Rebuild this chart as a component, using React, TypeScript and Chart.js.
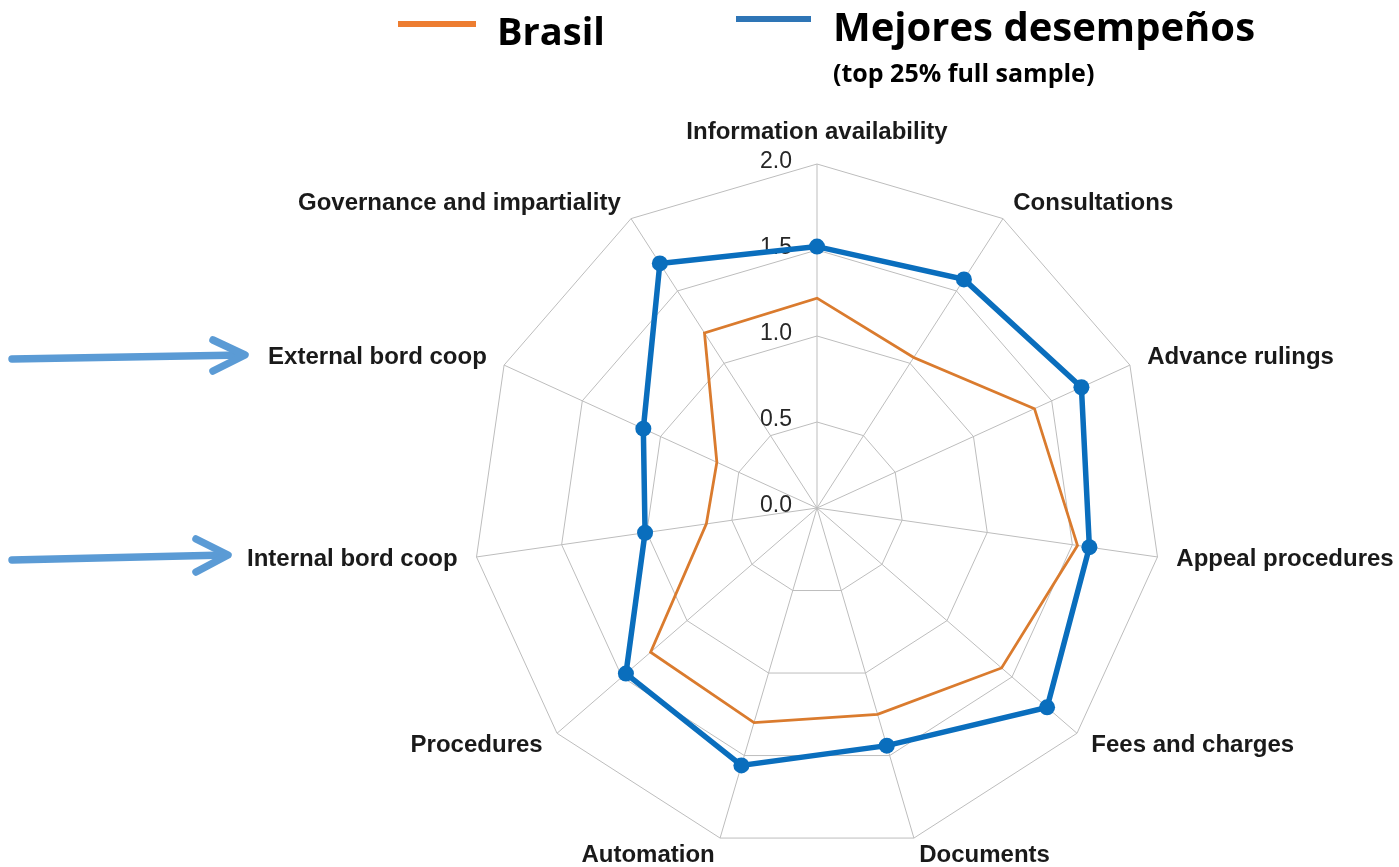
import React, { useEffect, useRef } from "react";
import { Chart, registerables } from "chart.js";

Chart.register(...registerables);

const categories = [
  "Information availability",
  "Consultations",
  "Advance rulings",
  "Appeal procedures",
  "Fees and charges",
  "Documents",
  "Automation",
  "Procedures",
  "Internal bord coop",
  "External bord coop",
  "Governance and impartiality",
];
const brasilValues = [1.22, 1.04, 1.39, 1.53, 1.42, 1.25, 1.3, 1.28, 0.65, 0.64, 1.21];
const topValues = [1.52, 1.58, 1.69, 1.6, 1.77, 1.44, 1.56, 1.47, 1.01, 1.11, 1.69];
const tickValues = [0, 0.5, 1.0, 1.5, 2.0];
const seriesNames = ["Brasil", "Mejores desempeños"];
const legendSubtitle = "(top 25% full sample)";

const W = 1399;
const H = 867;

const BLUE = "#0A6EBD";
const ORANGE = "#DA7B2E";

const decorPlugin = {
  id: "decor",
  beforeDatasetsDraw(chart: any) {
    const scale = chart.scales.r;
    const ctx = chart.ctx;
    ctx.save();
    ctx.font = '23px "Liberation Sans", Arial, sans-serif';
    ctx.fillStyle = "#262626";
    ctx.textAlign = "right";
    ctx.textBaseline = "middle";
    tickValues.forEach((v) => {
      const p = scale.getPointPositionForValue(0, v);
      ctx.fillText(v.toFixed(1), scale.xCenter - 25, p.y - 2);
    });
    ctx.restore();
  },
  afterDraw(chart: any) {
    const scale = chart.scales.r;
    const ctx = chart.ctx;
    ctx.save();
    // point labels
    ctx.font = 'bold 24px "Liberation Sans", Arial, sans-serif';
    ctx.fillStyle = "#1a1a1a";
    ctx.textBaseline = "middle";
    categories.forEach((c, i) => {
      const p = scale.getPointPosition(i, scale.drawingArea);
      const a = p.angle + Math.PI / 2;
      const s = Math.sin(a);
      const co = Math.cos(a);
      let x = p.x;
      let y = p.y;
      if (Math.abs(s) < 0.05) {
        ctx.textAlign = "center";
        y = p.y - 32;
      } else if (s > 0) {
        ctx.textAlign = "left";
        x = p.x + 19 * Math.abs(s);
        y = p.y - co * 18;
      } else {
        ctx.textAlign = "right";
        x = p.x - 19 * Math.abs(s);
        y = p.y - co * 18;
      }
      ctx.fillText(c, x, y);
    });

    // legend
    ctx.lineCap = "butt";
    ctx.lineWidth = 6;
    ctx.strokeStyle = "#ED7D31";
    ctx.beginPath();
    ctx.moveTo(398, 24);
    ctx.lineTo(476, 24);
    ctx.stroke();
    ctx.strokeStyle = "#2E75B6";
    ctx.beginPath();
    ctx.moveTo(736, 19);
    ctx.lineTo(811, 19);
    ctx.stroke();

    ctx.fillStyle = "#000";
    ctx.textAlign = "left";
    ctx.textBaseline = "alphabetic";
    ctx.font = 'bold 38px "Open Sans", sans-serif';
    ctx.fillText(seriesNames[0], 497, 45);
    ctx.font = 'bold 40px "Open Sans", sans-serif';
    ctx.fillText(seriesNames[1], 833, 41);
    ctx.font = 'bold 25px "Open Sans", sans-serif';
    ctx.fillText(legendSubtitle, 833, 82);

    // arrows
    const arrow = (x0: number, y0: number, x1: number, y1: number, dy1: number, dy2: number) => {
      ctx.strokeStyle = "#5B9BD5";
      ctx.lineWidth = 7.5;
      ctx.lineCap = "round";
      ctx.lineJoin = "round";
      ctx.beginPath();
      ctx.moveTo(x0, y0);
      ctx.lineTo(x1 - 2, y1);
      ctx.stroke();
      ctx.beginPath();
      ctx.moveTo(x1 - 32, y1 + dy1);
      ctx.lineTo(x1, y1);
      ctx.lineTo(x1 - 32, y1 + dy2);
      ctx.stroke();
    };
    arrow(12, 359, 245, 355, -15, 16);
    arrow(12, 560, 228, 555, -16, 17);
    ctx.restore();
  },
};

export default function App() {
  const ref = useRef<HTMLCanvasElement | null>(null);
  useEffect(() => {
    document.body.style.margin = "0";
    const canvas = ref.current;
    if (!canvas) return;
    const chart = new Chart(canvas, {
      type: "radar",
      data: {
        labels: categories,
        datasets: [
          {
            label: seriesNames[0],
            data: brasilValues,
            borderColor: ORANGE,
            backgroundColor: ORANGE,
            borderWidth: 2.8,
            pointRadius: 0,
            fill: false,
            order: 1,
          },
          {
            label: seriesNames[1],
            data: topValues,
            borderColor: BLUE,
            backgroundColor: BLUE,
            borderWidth: 5.5,
            pointRadius: 8,
            pointBorderWidth: 0,
            pointBackgroundColor: BLUE,
            fill: false,
            order: 0,
          },
        ],
      },
      options: {
        responsive: false,
        maintainAspectRatio: false,
        animation: false,
        devicePixelRatio: 1,
        layout: { padding: { left: 473, right: 238, top: 164, bottom: 15 } },
        plugins: { legend: { display: false }, tooltip: { enabled: false } },
        elements: { line: { tension: 0 } },
        scales: {
          r: {
            min: 0,
            max: 2,
            ticks: { stepSize: 0.5, display: false, showLabelBackdrop: false },
            pointLabels: { display: false },
            grid: { color: "#bdbdbd", lineWidth: 1 },
            angleLines: { color: "#bdbdbd", lineWidth: 1 },
          },
        },
      },
      plugins: [decorPlugin],
    });
    return () => chart.destroy();
  }, []);
  return (
    <div style={{ position: "absolute", left: 0, top: 0, width: W, height: H, background: "#fff" }}>
      <canvas ref={ref} width={W} height={H} style={{ width: W, height: H, display: "block" }} />
    </div>
  );
}
